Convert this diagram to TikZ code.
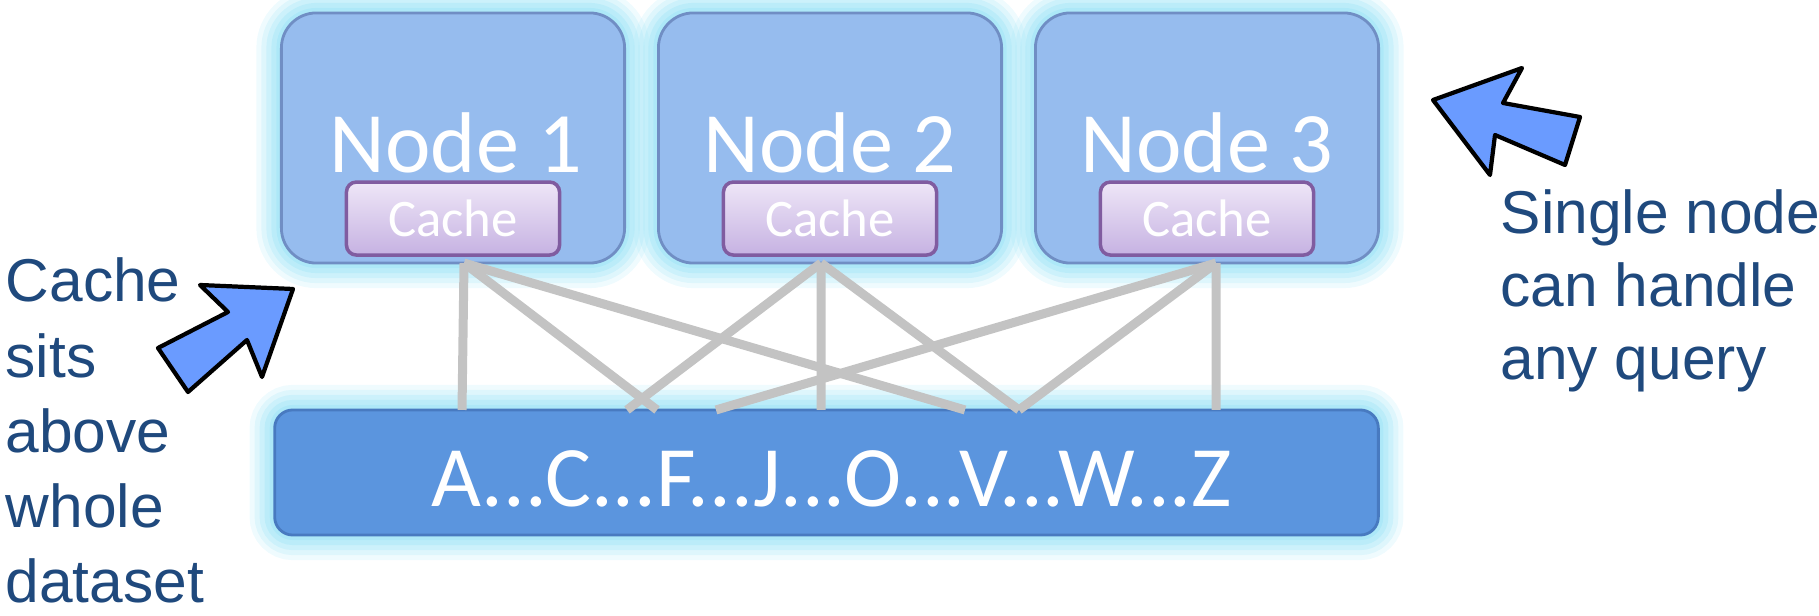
\documentclass[tikz,border=0pt]{standalone}
\usepackage{fontspec}
\setmainfont{Carlito}
\newfontfamily\notefont{Liberation Sans}
\usetikzlibrary{positioning}

\definecolor{srvfill}{RGB}{150,188,238}
\definecolor{srvedge}{RGB}{112,142,196}
\definecolor{glowc}{RGB}{150,226,246}
\definecolor{barfill}{RGB}{91,149,222}
\definecolor{baredge}{RGB}{72,122,192}
\definecolor{cachetop}{RGB}{238,230,247}
\definecolor{cachebot}{RGB}{198,178,226}
\definecolor{cacheedge}{RGB}{128,92,160}
\definecolor{wirec}{RGB}{195,195,195}
\definecolor{notec}{RGB}{31,73,125}
\definecolor{arrowc}{RGB}{106,155,255}

\begin{document}
\begin{tikzpicture}[x=0.01cm, y=-0.01cm,
  glow/.style={preaction={draw=glowc, line width=0.5cm, opacity=0.15},
               preaction={draw=glowc, line width=0.4cm, opacity=0.2},
               preaction={draw=glowc, line width=0.3cm, opacity=0.25},
               preaction={draw=glowc, line width=0.2cm, opacity=0.3},
               preaction={draw=glowc, line width=0.1cm, opacity=0.4}},
  server/.style={glow, draw=srvedge, line width=0.8pt, fill=srvfill, rounded corners=0.35cm,
                 minimum width=3.43cm, minimum height=2.5cm, inner sep=0pt, outer sep=0pt},
  cachebox/.style={draw=cacheedge, line width=1pt, top color=cachetop, bottom color=cachebot,
                   rounded corners=0.1cm, minimum width=2.13cm, minimum height=0.73cm,
                   inner sep=0pt, outer sep=0pt, text=white, font=\fontsize{15}{15}\selectfont},
  databar/.style={glow, draw=baredge, line width=0.8pt, fill=barfill, rounded corners=0.18cm,
                  minimum width=11.03cm, minimum height=1.25cm, inner sep=0pt, outer sep=0pt},
  bigtext/.style={text=white, inner sep=0pt, font=\fontsize{24.5}{24.5}\selectfont},
  wire/.style={draw=wirec, line width=0.09cm},
  note/.style={text=notec, inner sep=0pt, align=left},
  blockarrow/.style={draw=black, fill=arrowc, line width=1.2pt, line join=round}]

  \useasboundingbox (0,0) rectangle (1819,616);

  % servers
  \node [server] (n1) at (453,138) {};
  \node [server] (n2) at (830,138) {};
  \node [server] (n3) at (1207,138) {};
  \node [bigtext, anchor=base] (l1) at (456,173) {Node 1};
  \node [bigtext, anchor=base] (l2) at (830,173) {Node 2};
  \node [bigtext, anchor=base] (l3) at (1207,173) {Node 3};
  \node [cachebox, above=0.08cm of n1.south] (c1) {Cache};
  \node [cachebox, above=0.08cm of n2.south] (c2) {Cache};
  \node [cachebox, above=0.08cm of n3.south] (c3) {Cache};

  % dataset
  \node [databar] (bar) at (826.5,472.5) {};
  \node [bigtext, anchor=base] (keys) at (832,507) {A...C...F...J...O...V...W...Z};

  % wires
  \coordinate (t1) at ([xshift=0.11cm]n1.south);
  \coordinate (t2) at ([xshift=-0.09cm]n2.south);
  \coordinate (t3) at ([xshift=0.09cm]n3.south);
  \foreach \x [count=\i] in {462,627,657,716,821,965,1019,1216}
    \coordinate (b\i) at (\x,0 |- bar.north);
  \foreach \a/\b in {t1/b1,t1/b3,t1/b6,t2/b2,t2/b5,t2/b7,t3/b4,t3/b7,t3/b8}
    \draw [wire] (\a) -- (\b);

  % notes
  \node [note, anchor=base west, font=\notefont\fontsize{17.2}{21.4}\selectfont] (left) at (5,603)
    {Cache\\sits\\above\\whole\\dataset};
  \node [note, anchor=base west, font=\notefont\fontsize{17.2}{20.9}\selectfont] (right) at (1500,380)
    {Single node\\can handle\\any query};

  \draw [blockarrow] (158,348) -- (228,312) -- (200,285) -- (293,289) -- (262,377) -- (247,340) -- (188,392) -- cycle;
  \draw [blockarrow] (1433,100) -- (1522,68) -- (1503,103) -- (1580,117) -- (1565,165) -- (1495,135) -- (1490,175) -- cycle;

\end{tikzpicture}
\end{document}
